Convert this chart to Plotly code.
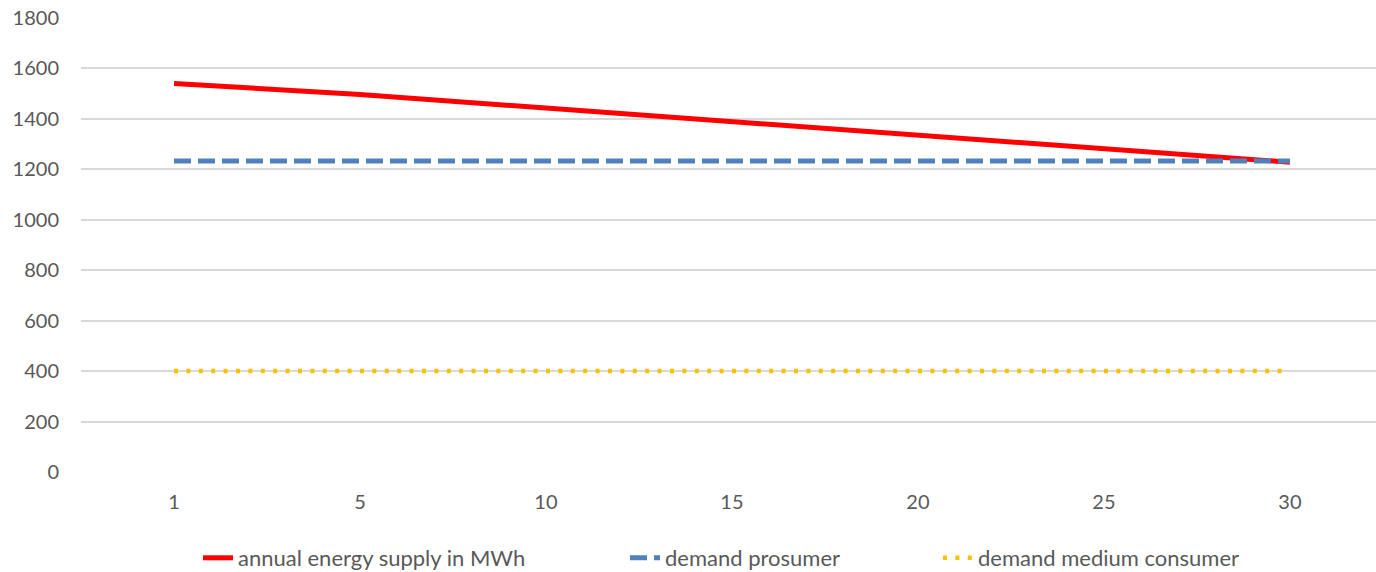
import plotly.graph_objects as go

years = ["1", "5", "10", "15", "20", "25", "30"]
supply = [1540, 1497, 1443, 1390, 1336, 1282, 1228]
demand_prosumer = [1233, 1233, 1233, 1233, 1233, 1233, 1233]
demand_medium = [400, 400, 400, 400, 400, 400, 400]
y_ticks = [0, 200, 400, 600, 800, 1000, 1200, 1400, 1600, 1800]

FONT = "Lato"
TXT = "#595959"
FW, FH = 1376, 572
L, T = 81, 18
B = FH - 472
W = FW - L
PH = FH - T - B

def lx(px):
    return (px - 40 - L) / W

fig = go.Figure()
fig.add_trace(go.Scatter(x=years, y=supply, mode="lines", name="annual energy supply in MWh",
                         line=dict(color="#FF0000", width=5), legend="legend"))
fig.add_trace(go.Scatter(x=years, y=demand_prosumer, mode="lines", name="demand prosumer",
                         line=dict(color="#4F81BD", width=5, dash="17px,7px"), legend="legend2"))
fig.add_trace(go.Scatter(x=years, y=demand_medium, mode="lines", name="demand medium consumer",
                         line=dict(color="#FFC000", width=4.5, dash="4px,8.4px"), legend="legend3"))

leg_common = dict(orientation="h", yanchor="middle", y=-86 / PH, xanchor="left",
                  font=dict(family=FONT, size=22, color=TXT), bgcolor="rgba(0,0,0,0)")
fig.update_layout(
    width=FW, height=FH,
    margin=dict(l=L, r=0, t=T, b=B, pad=0, autoexpand=False),
    paper_bgcolor="white", plot_bgcolor="white",
    font=dict(family=FONT, size=20, color=TXT),
    showlegend=True,
    legend=dict(x=lx(238), **leg_common),
    legend2=dict(x=lx(665), **leg_common),
    legend3=dict(x=lx(978), **leg_common),
)
fig.update_xaxes(type="category", range=[-0.5, 6.463], showgrid=False, zeroline=False,
                 showline=False, ticks="", ticklabelstandoff=16, automargin=False,
                 tickfont=dict(family=FONT, size=20, color=TXT))
fig.update_yaxes(range=[0, 1800], tickvals=y_ticks, showgrid=True, gridcolor="#D9D9D9",
                 gridwidth=1.5, zeroline=False, showline=False, ticks="", automargin=False,
                 ticklabeloverflow="allow", ticklabelstandoff=21,
                 tickfont=dict(family=FONT, size=20, color=TXT))

fig.write_html("out.html", config={"displayModeBar": False},
               post_script="document.body.style.margin='0';document.body.style.overflow='hidden';")
